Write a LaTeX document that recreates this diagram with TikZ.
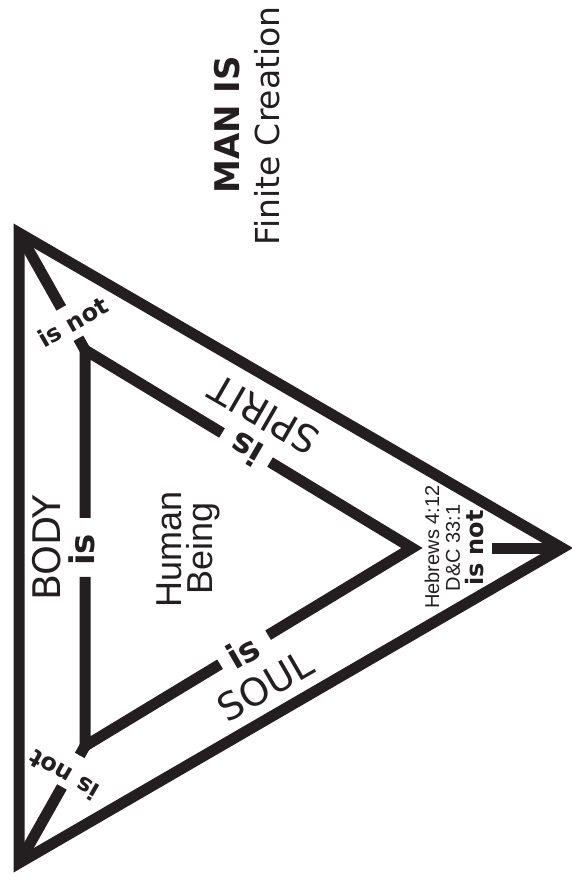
\documentclass[tikz,border=0pt]{standalone}
\usepackage{fontspec}
\setmainfont{DejaVu Sans}
\newfontfamily\lib{Liberation Sans}
\usetikzlibrary{calc}
\definecolor{ink}{RGB}{35,31,32}
\tikzset{
  bar/.style={draw=ink,line width=11pt,line join=miter,line cap=butt},
  big/.style={text=ink,inner sep=0pt,font=\fontsize{38}{40}\selectfont},
  islab/.style={text=ink,inner sep=0pt,font=\bfseries\fontsize{34}{36}\selectfont},
  notlab/.style={text=ink,inner sep=0pt,font=\bfseries\fontsize{24}{26}\selectfont},
  ref/.style={text=ink,inner sep=0pt,font=\lib\fontsize{20}{22}\selectfont},
}
\begin{document}
\begin{tikzpicture}[x=1pt,y=-1pt]
\useasboundingbox (0,0) rectangle (571,883);
% vertices
\coordinate (O1) at (19,233);
\coordinate (O2) at (19,863);
\coordinate (O3) at (562,548);
\coordinate (I1) at (85,350);
\coordinate (I2) at (85,746);
\coordinate (I3) at (412,548);
% outer triangle
\draw[bar] (O1) -- (O2) -- (O3) -- cycle;
% inner triangle with gaps
\draw[bar] ($(I1)!0.573!(I2)$) -- (I2) -- ($(I2)!0.413!(I3)$);
\draw[bar] ($(I2)!0.56!(I3)$) -- (I3) -- ($(I1)!0.566!(I3)$);
\draw[bar] ($(I1)!0.419!(I3)$) -- (I1) -- ($(I1)!0.424!(I2)$);
% spokes
\draw[bar] (O1) -- ($(O1)!0.64!(I1)$);
\draw[bar] ($(O1)!0.9!(I1)$) -- (I1);
\draw[bar] (O2) -- ($(O2)!0.65!(I2)$);
\draw[bar] ($(O2)!0.92!(I2)$) -- (I2);
\draw[bar] (O3) -- ($(O3)!0.467!(I3)$);
% title
\node[text=ink,inner sep=0pt,font=\bfseries\fontsize{34}{36}\selectfont,rotate=90] (title) at (227,125) {MAN IS};
\node[text=ink,inner sep=0pt,font=\fontsize{33}{35}\selectfont,rotate=90] (sub) at (267,126) {Finite Creation};
% labels
\node[big,rotate=90] (body) at (47,548) {BODY};
\node[islab,rotate=90] (isbody) at (82,550) {is};
\node[big,rotate=150] (spirit) at (264,415) {SPIRIT};
\node[islab,rotate=150] (isspirit) at (246,449) {is};
\node[big,rotate=30] (soul) at (265,686) {SOUL};
\node[islab,rotate=30] (issoul) at (243,652) {is};
\node[text=ink,inner sep=0pt,font=\lib\fontsize{36}{38}\selectfont,rotate=90] (human) at (169,549) {Human};
\node[text=ink,inner sep=0pt,font=\lib\fontsize{36}{38}\selectfont,rotate=90] (being) at (203,548) {Being};
\node[notlab,rotate=30] (nottop) at (73,322) {is not};
\node[notlab,rotate=150] (notbot) at (64,775) {is not};
\node[ref,rotate=90] (heb) at (432,547) {Hebrews 4:12};
\node[ref,rotate=90] (dc) at (453,548) {D\&C 33:1};
\node[notlab,rotate=90] (notright) at (475,548) {is not};
\end{tikzpicture}
\end{document}
